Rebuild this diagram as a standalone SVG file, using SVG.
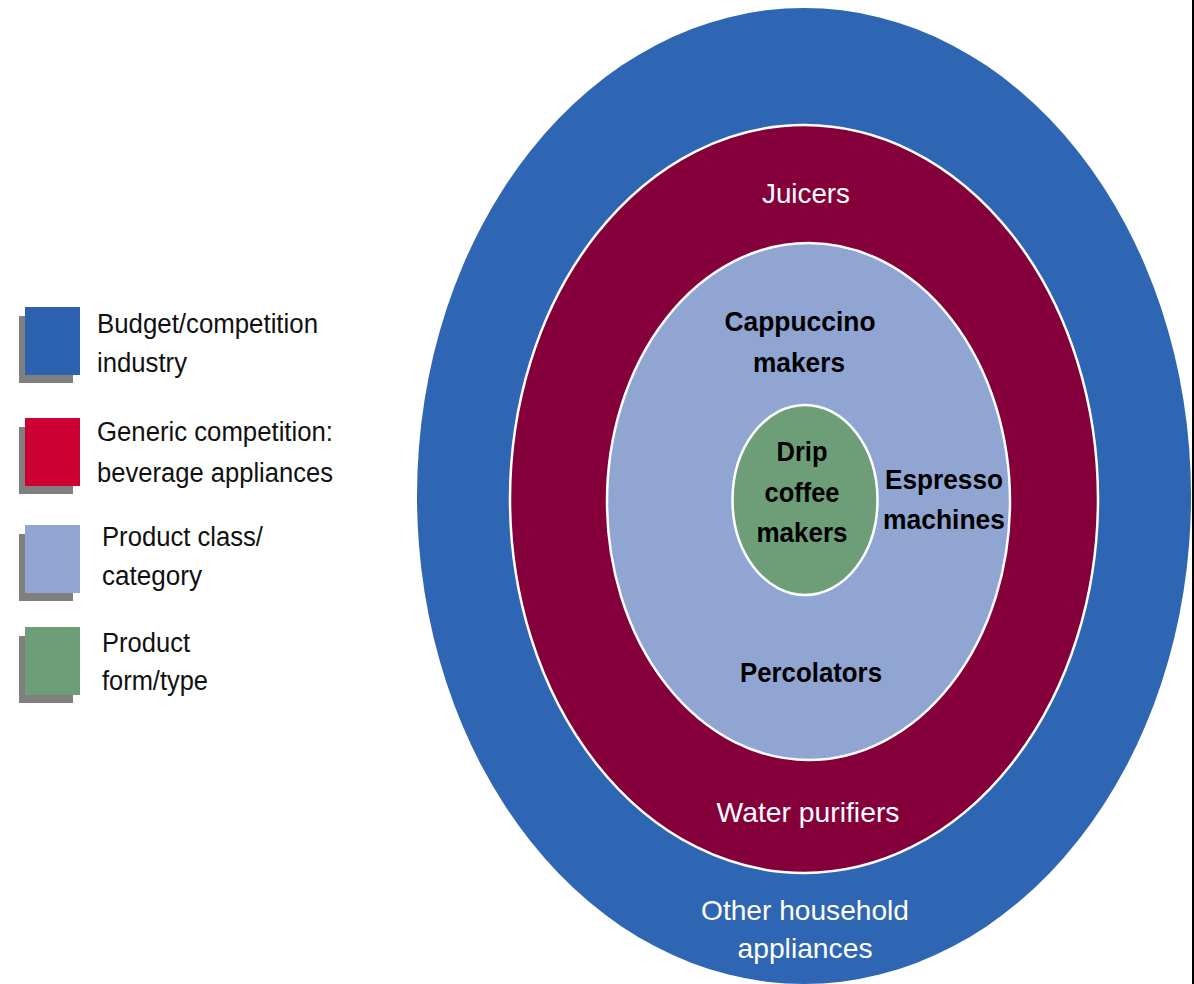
<svg xmlns="http://www.w3.org/2000/svg" width="1194" height="984" viewBox="0 0 1194 984">
<style>
.lg{font-family:"Liberation Sans",Arial,sans-serif;font-size:27px;fill:#111}
.wt{font-family:"Liberation Sans",Arial,sans-serif;font-size:28px;fill:#fff;text-anchor:middle}
.bk{font-family:"Liberation Sans",Arial,sans-serif;font-size:28px;font-weight:bold;fill:#000;text-anchor:middle}
.sh{fill:#7f7f7f}
</style>
<rect x="0" y="0" width="1194" height="984" fill="#fff"/>
<rect x="1192" y="0" width="2" height="984" fill="#000"/>
<g id="legend">
  <g id="legend-budget">
    <rect class="sh" x="19" y="316" width="54" height="67"/>
    <rect x="25" y="307" width="55" height="68" fill="#2D62B0"/>
    <text class="lg" x="97" y="333" textLength="221" lengthAdjust="spacingAndGlyphs">Budget/competition</text>
    <text class="lg" x="97" y="372" textLength="90" lengthAdjust="spacingAndGlyphs">industry</text>
  </g>
  <g id="legend-generic">
    <rect class="sh" x="19" y="427" width="54" height="67"/>
    <rect x="25" y="418" width="55" height="68" fill="#CC0033"/>
    <text class="lg" x="97" y="441" textLength="236" lengthAdjust="spacingAndGlyphs">Generic competition:</text>
    <text class="lg" x="97" y="482" textLength="236" lengthAdjust="spacingAndGlyphs">beverage appliances</text>
  </g>
  <g id="legend-class">
    <rect class="sh" x="19" y="534" width="54" height="67"/>
    <rect x="25" y="525" width="55" height="68" fill="#91A5D3"/>
    <text class="lg" x="102" y="546" textLength="161" lengthAdjust="spacingAndGlyphs">Product class/</text>
    <text class="lg" x="102" y="585" textLength="100" lengthAdjust="spacingAndGlyphs">category</text>
  </g>
  <g id="legend-form">
    <rect class="sh" x="19" y="636" width="54" height="67"/>
    <rect x="25" y="627" width="55" height="68" fill="#6E9E78"/>
    <text class="lg" x="102" y="652" textLength="88" lengthAdjust="spacingAndGlyphs">Product</text>
    <text class="lg" x="102" y="690" textLength="106" lengthAdjust="spacingAndGlyphs">form/type</text>
  </g>
</g>
<g id="budget-ring">
  <ellipse cx="804" cy="496" rx="387" ry="488" fill="#2F66B3"/>
  <text class="wt" x="805" y="920" textLength="208" lengthAdjust="spacingAndGlyphs">Other household</text>
  <text class="wt" x="805" y="958" textLength="135" lengthAdjust="spacingAndGlyphs">appliances</text>
</g>
<g id="generic-ring">
  <ellipse cx="804" cy="499" rx="294" ry="374" fill="#85003A" stroke="#fff" stroke-width="2.5"/>
  <text class="wt" x="806" y="203" textLength="88" lengthAdjust="spacingAndGlyphs">Juicers</text>
  <text class="wt" x="808" y="822" textLength="183" lengthAdjust="spacingAndGlyphs">Water purifiers</text>
</g>
<g id="class-ring">
  <ellipse cx="808.5" cy="501.5" rx="201.5" ry="258.5" fill="#91A5D3" stroke="#fff" stroke-width="2.5"/>
  <text class="bk" x="800" y="331" textLength="151" lengthAdjust="spacingAndGlyphs">Cappuccino</text>
  <text class="bk" x="799" y="372" textLength="92" lengthAdjust="spacingAndGlyphs">makers</text>
  <text class="bk" x="944" y="489" textLength="118" lengthAdjust="spacingAndGlyphs">Espresso</text>
  <text class="bk" x="944" y="529" textLength="122" lengthAdjust="spacingAndGlyphs">machines</text>
  <text class="bk" x="811" y="682" textLength="142" lengthAdjust="spacingAndGlyphs">Percolators</text>
</g>
<g id="form-core">
  <ellipse cx="805" cy="500" rx="72.5" ry="95" fill="#6E9E78" stroke="#fff" stroke-width="2.5"/>
  <text class="bk" x="802" y="461" textLength="51" lengthAdjust="spacingAndGlyphs">Drip</text>
  <text class="bk" x="802" y="502" textLength="75" lengthAdjust="spacingAndGlyphs">coffee</text>
  <text class="bk" x="802" y="542" textLength="91" lengthAdjust="spacingAndGlyphs">makers</text>
</g>
<g id="connectors"></g>
</svg>
